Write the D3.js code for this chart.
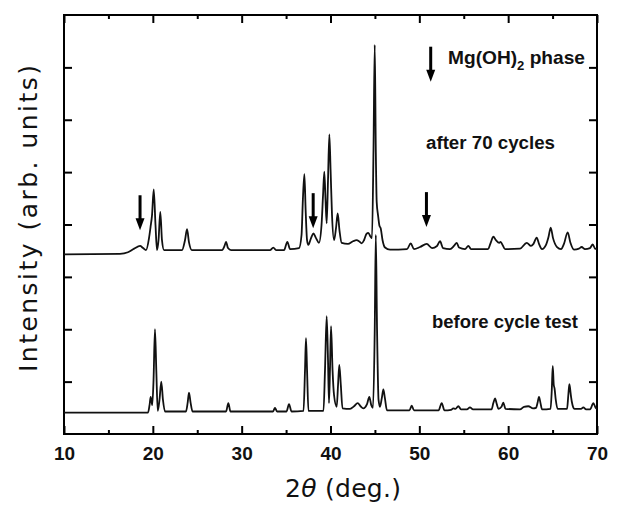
<!DOCTYPE html>
<html>
<head>
<meta charset="utf-8">
<script src="https://cdn.jsdelivr.net/npm/d3@7"></script>
<style>
  body { margin: 0; background: #fff; }
  svg { display: block; }
</style>
</head>
<body>
<div class="canvas"></div>
<script>
// x ticks (2 theta, deg.)
const majorTicks = [10, 20, 30, 40, 50, 60, 70];
const minorTicks = [15, 25, 35, 45, 55, 65];
// y ticks, arbitrary units (no labels in the figure)
const yTicks = [100, 200, 300, 400, 500, 600, 700];

// after 70 cycles: [2theta, intensity]
const afterCycles = [
  [10, 343], [16.3, 344], [17.2, 347], [17.9, 354], [18.56, 359], [18.9, 355], [19.23, 351],
  [19.57, 374], [19.74, 395], [19.91, 418], [20.1, 467], [20.3, 399], [20.47, 351], [20.64, 370],
  [20.84, 424], [21.03, 370], [21.26, 351], [23.28, 351], [23.62, 370], [23.85, 391], [24.07, 366],
  [24.41, 351], [27.79, 351], [28.07, 359], [28.24, 367], [28.46, 355], [28.8, 351], [33.19, 351],
  [33.56, 356], [33.87, 351], [34.77, 351], [35.14, 367], [35.45, 353], [36.46, 355], [36.74, 380],
  [36.89, 447], [37.06, 496], [37.2, 428], [37.36, 370], [37.5, 361], [37.81, 374], [38.07, 383],
  [38.37, 374], [38.7, 365], [38.99, 399], [39.16, 456], [39.3, 501], [39.44, 447], [39.57, 402],
  [39.72, 485], [39.87, 572], [40.01, 504], [40.17, 418], [40.4, 370], [40.62, 393], [40.81, 421],
  [41.01, 389], [41.26, 365], [41.97, 363], [42.53, 368], [42.95, 370], [43.21, 368], [43.51, 364],
  [43.77, 370], [44.05, 382], [44.26, 384], [44.5, 377], [44.67, 374], [44.84, 542], [44.98, 743],
  [45.1, 542], [45.2, 443], [45.35, 418], [45.52, 397], [45.65, 393], [45.86, 370], [46.14, 356],
  [46.7, 352], [48.61, 353], [49.03, 364], [49.4, 353], [50.08, 357], [50.83, 363], [51.43, 355],
  [51.99, 359], [52.33, 368], [52.67, 355], [53.45, 353], [53.9, 359], [54.21, 365], [54.47, 356],
  [55.14, 353], [55.52, 359], [55.82, 353], [57.73, 353], [58.07, 367], [58.33, 377], [58.63, 370],
  [59.0, 365], [59.14, 367], [59.31, 363], [59.65, 353], [61.33, 354], [62.09, 365], [62.57, 359],
  [62.85, 363], [63.21, 375], [63.47, 363], [63.81, 353], [64.26, 361], [64.54, 376], [64.79, 394],
  [65.05, 374], [65.5, 357], [65.95, 353], [66.28, 363], [66.7, 385], [67.01, 365], [67.41, 352],
  [67.97, 354], [68.27, 357], [68.65, 353], [69.21, 355], [69.52, 362], [69.78, 354], [70, 353]
];

// before cycle test: [2theta, intensity]
const beforeCycles = [
  [10, 41], [19.46, 41], [19.63, 55], [19.76, 71], [19.93, 55], [20.08, 103], [20.24, 200],
  [20.39, 122], [20.55, 44], [20.75, 65], [20.95, 100], [21.14, 65], [21.37, 43], [23.73, 43],
  [23.93, 61], [24.07, 79], [24.24, 61], [24.47, 43], [28.24, 43], [28.5, 59], [28.74, 43],
  [33.53, 43], [33.75, 50], [33.98, 43], [35.05, 43], [35.33, 57], [35.61, 43], [36.96, 44],
  [37.13, 122], [37.24, 183], [37.36, 122], [37.52, 44], [39.21, 44], [39.38, 122], [39.57, 225],
  [39.72, 141], [39.83, 59], [39.94, 122], [40.06, 206], [40.23, 122], [40.4, 74], [40.7, 52],
  [40.85, 94], [40.99, 132], [41.16, 94], [41.35, 49], [42.2, 48], [42.65, 53], [43.06, 59],
  [43.38, 53], [43.69, 49], [44.11, 57], [44.37, 71], [44.59, 55], [44.78, 50], [44.98, 199],
  [45.1, 380], [45.24, 199], [45.41, 65], [45.57, 52], [45.78, 69], [45.95, 85], [46.12, 69],
  [46.36, 45], [48.89, 45], [49.14, 54], [49.4, 45], [52.16, 45], [52.52, 59], [52.83, 45],
  [53.57, 46], [53.82, 49], [54.07, 48], [54.39, 53], [54.69, 47], [55.36, 47], [55.7, 51],
  [56.04, 47], [58.13, 47], [58.33, 59], [58.52, 68], [58.72, 57], [58.91, 48], [59.25, 52],
  [59.45, 60], [59.7, 48], [61.33, 47], [61.78, 52], [62.27, 53], [62.8, 49], [63.14, 50],
  [63.3, 59], [63.47, 71], [63.64, 59], [63.81, 47], [64.77, 48], [64.91, 84], [65.02, 130],
  [65.13, 94], [65.22, 87], [65.36, 65], [65.56, 48], [66.63, 48], [66.77, 74], [66.89, 95],
  [67.03, 78], [67.08, 71], [67.25, 55], [67.47, 48], [68.2, 48], [68.46, 51], [68.77, 47],
  [69.22, 47], [69.59, 59], [69.84, 50], [70, 48]
];

// Mg(OH)2 markers: [2theta, intensity at arrow tip]
const mgArrows = [[18.56, 389], [38.05, 393], [50.8, 395]];

const width = 620, height = 506;
const plotLeft = 64, plotRight = 597, plotTop = 15, plotBottom = 434;

const svg = d3.select('.canvas').append('svg')
    .attr('width', width)
    .attr('height', height);

const x = d3.scaleLinear().domain([10, 70]).range([plotLeft, plotRight]);
const y = d3.scaleLinear().domain([0, 800]).range([plotBottom, plotTop]);

// ticks, all pointing inward
function tickGroup(axis, tx, ty) {
  const g = svg.append('g').attr('transform', `translate(${tx},${ty})`).call(axis);
  g.select('.domain').remove();
  g.selectAll('line').attr('stroke', '#000').attr('stroke-width', 2);
  return g;
}

const xMajor = tickGroup(d3.axisBottom(x).tickValues(majorTicks).tickSize(-8).tickPadding(13).tickFormat(d3.format('d')), 0, plotBottom);
xMajor.selectAll('text')
    .style('font-family', '"Liberation Sans", Arial, sans-serif')
    .style('font-size', '19px')
    .style('font-weight', 'bold')
    .attr('fill', '#111');
tickGroup(d3.axisBottom(x).tickValues(minorTicks).tickSize(-4).tickFormat(''), 0, plotBottom);
tickGroup(d3.axisTop(x).tickValues(majorTicks).tickSize(-8).tickFormat(''), 0, plotTop);
tickGroup(d3.axisTop(x).tickValues(minorTicks).tickSize(-4).tickFormat(''), 0, plotTop);
tickGroup(d3.axisLeft(y).tickValues(yTicks).tickSize(-8).tickFormat(''), plotLeft, 0);
tickGroup(d3.axisRight(y).tickValues(yTicks).tickSize(-8).tickFormat(''), plotRight, 0);

// frame
svg.append('rect')
    .attr('x', plotLeft)
    .attr('y', plotTop)
    .attr('width', plotRight - plotLeft)
    .attr('height', plotBottom - plotTop)
    .attr('fill', 'none')
    .attr('stroke', '#000')
    .attr('stroke-width', 2);

// traces
const line = d3.line()
    .curve(d3.curveMonotoneX)
    .x(d => x(d[0]))
    .y(d => y(d[1]));

[beforeCycles, afterCycles].forEach(trace => {
  svg.append('path')
      .datum(trace)
      .attr('d', line)
      .attr('fill', 'none')
      .attr('stroke', '#111')
      .attr('stroke-width', 1.8)
      .attr('stroke-linejoin', 'round');
});

// down arrows
function arrow(px, tipY) {
  const len = 35, head = 12, hw = 4.5;
  svg.append('line')
      .attr('x1', px).attr('x2', px)
      .attr('y1', tipY - len).attr('y2', tipY - head + 1)
      .attr('stroke', '#000')
      .attr('stroke-width', 3);
  svg.append('path')
      .attr('d', `M${px - hw},${tipY - head} L${px + hw},${tipY - head} L${px},${tipY} Z`)
      .attr('fill', '#000');
}
mgArrows.forEach(d => arrow(x(d[0]), y(d[1])));
arrow(430.7, 81.7);

// labels
const labelFont = '"Liberation Sans", Arial, sans-serif';

const mg = svg.append('text')
    .attr('x', 448)
    .attr('y', 64)
    .attr('textLength', 137)
    .attr('lengthAdjust', 'spacingAndGlyphs')
    .style('font-family', labelFont)
    .style('font-size', '19px')
    .style('font-weight', 'bold')
    .attr('fill', '#111');
mg.append('tspan').text('Mg(OH)');
mg.append('tspan').attr('dy', 6).style('font-size', '13px').text('2');
mg.append('tspan').attr('dy', -6).text(' phase');

svg.append('text')
    .attr('x', 426)
    .attr('y', 149)
    .attr('textLength', 129)
    .attr('lengthAdjust', 'spacingAndGlyphs')
    .style('font-family', labelFont)
    .style('font-size', '18px')
    .style('font-weight', 'bold')
    .attr('fill', '#111')
    .text('after 70 cycles');

svg.append('text')
    .attr('x', 432)
    .attr('y', 328)
    .attr('textLength', 146)
    .attr('lengthAdjust', 'spacingAndGlyphs')
    .style('font-family', labelFont)
    .style('font-size', '18px')
    .style('font-weight', 'bold')
    .attr('fill', '#111')
    .text('before cycle test');

// axis titles
const xt = svg.append('text')
    .attr('x', 285)
    .attr('y', 497)
    .attr('textLength', 116)
    .attr('lengthAdjust', 'spacing')
    .style('font-family', '"DejaVu Sans", sans-serif')
    .style('font-size', '25px')
    .attr('fill', '#111');
xt.append('tspan').text('2');
xt.append('tspan').style('font-style', 'italic').text('θ');
xt.append('tspan').text(' (deg.)');

svg.append('text')
    .attr('transform', 'translate(37,372) rotate(-90)')
    .attr('textLength', 307)
    .attr('lengthAdjust', 'spacing')
    .style('font-family', '"DejaVu Sans", sans-serif')
    .style('font-size', '25px')
    .attr('fill', '#111')
    .text('Intensity (arb. units)');
</script>
</body>
</html>
